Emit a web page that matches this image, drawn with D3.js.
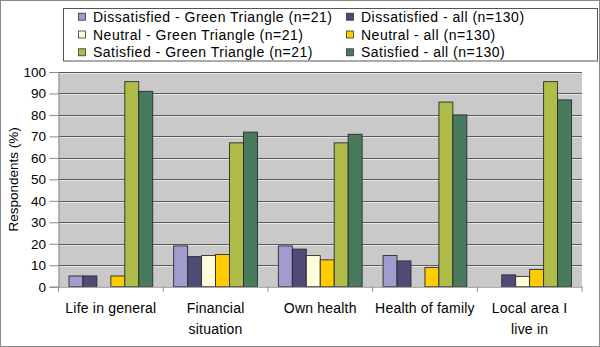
<!DOCTYPE html>
<html>
<head>
<meta charset="utf-8">
<script src="https://cdn.jsdelivr.net/npm/d3@7"></script>
<style>
  body { margin: 0; background: #fff; }
  svg text { font-family: "Liberation Sans", Arial, sans-serif; fill: #000; }
</style>
</head>
<body>
<svg id="chart"></svg>
<script>
// categories and series
var categories = ["Life in general", "Financial situation", "Own health", "Health of family", "Local area I live in"];
var categoryLines = [["Life in general"], ["Financial", "situation"], ["Own health"], ["Health of family"], ["Local area I", "live in"]];

var seriesNames = [
  "Dissatisfied - Green Triangle (n=21)",
  "Dissatisfied - all (n=130)",
  "Neutral - Green Triangle (n=21)",
  "Neutral - all (n=130)",
  "Satisfied - Green Triangle (n=21)",
  "Satisfied - all (n=130)"
];
var seriesColors = ["#A09CCF", "#4F4A78", "#FFFCDC", "#FFCC00", "#B0BC4A", "#487A5E"];

var dissatGT = [5, 19, 19, 14.5, 0];
var dissatAll = [5, 14, 17.5, 12, 5.5];
var neutralGT = [0, 14.5, 14.5, 0, 4.8];
var neutralAll = [5, 15, 12.5, 9, 8];
var satGT = [95.5, 67, 67, 86, 95.5];
var satAll = [91, 72, 71, 80, 87];

var yTicks = [0, 10, 20, 30, 40, 50, 60, 70, 80, 90, 100];

var allSeries = [dissatGT, dissatAll, neutralGT, neutralAll, satGT, satAll];

var width = 600, height = 347;
var margin = {left: 58.5, right: 18, top: 72, bottom: 60};
var plotW = width - margin.left - margin.right;
var plotH = 286.7 - margin.top;

var svg = d3.select("#chart")
  .attr("width", width)
  .attr("height", height);

// outer frame
svg.append("rect")
  .attr("x", 0.5).attr("y", 0.5)
  .attr("width", width - 1).attr("height", height - 1)
  .attr("fill", "#fff").attr("stroke", "#8a8a8a");

var x0 = d3.scaleBand()
  .domain(categories)
  .range([0, plotW])
  .paddingInner(0).paddingOuter(0);

// gap width 150% of a bar: 6 bars + 1.5 gap
var barW = x0.bandwidth() / 7.5;
var x1 = d3.scaleBand()
  .domain(d3.range(seriesNames.length))
  .range([barW * 0.75, barW * 6.75]);

var y = d3.scaleLinear().domain([0, 100]).range([plotH, 0]);

var g = svg.append("g")
  .attr("transform", "translate(" + margin.left + "," + margin.top + ")");

// plot background
g.append("rect")
  .attr("width", plotW).attr("height", plotH)
  .attr("fill", "#C9C9C9");

// gridlines
var grid = g.append("g");
grid.selectAll("line.dark")
  .data(yTicks.filter(function(d) { return d > 0; }))
  .enter().append("line")
  .attr("x1", 0).attr("x2", plotW)
  .attr("y1", function(d) { return Math.round(y(d)) + 0.5; })
  .attr("y2", function(d) { return Math.round(y(d)) + 0.5; })
  .attr("stroke", "#5a5a5a");
grid.selectAll("line.light")
  .data(yTicks.filter(function(d) { return d > 0; }))
  .enter().append("line")
  .attr("x1", 0).attr("x2", plotW)
  .attr("y1", function(d) { return Math.round(y(d)) + 1.5; })
  .attr("y2", function(d) { return Math.round(y(d)) + 1.5; })
  .attr("stroke", "#e6e6e6");

// bars
var groups = g.selectAll("g.cat")
  .data(categories)
  .enter().append("g")
  .attr("transform", function(d) { return "translate(" + x0(d) + ",0)"; });

groups.selectAll("rect")
  .data(function(d, i) {
    return allSeries.map(function(s, j) { return {s: j, v: s[i]}; });
  })
  .enter().append("rect")
  .filter(function(d) { return d.v > 0; })
  .attr("x", function(d) { return x1(d.s); })
  .attr("width", x1.bandwidth())
  .attr("y", function(d) { return y(d.v); })
  .attr("height", function(d) { return plotH - y(d.v); })
  .attr("fill", function(d) { return seriesColors[d.s]; })
  .attr("stroke", "#2a2a2a")
  .attr("stroke-width", 0.9);

// y axis
var yAxis = g.append("g")
  .call(d3.axisLeft(y).tickValues(yTicks).tickSize(9).tickPadding(3.5));
yAxis.select(".domain").attr("stroke", "#8a8a8a");
yAxis.selectAll(".tick line").attr("stroke", "#8a8a8a");
yAxis.selectAll("text")
  .style("font-size", "13.5px")
  .attr("fill", "#000");

// x axis
var xAxis = g.append("g")
  .attr("transform", "translate(0," + plotH + ")")
  .call(d3.axisBottom(x0).tickSize(0).tickFormat(""));
xAxis.select(".domain").attr("stroke", "#8a8a8a");
xAxis.selectAll(".tick").remove();

xAxis.selectAll("line.sep")
  .data(d3.range(categories.length + 1))
  .enter().append("line")
  .attr("x1", function(i) { return i * x0.bandwidth(); })
  .attr("x2", function(i) { return i * x0.bandwidth(); })
  .attr("y1", 0).attr("y2", 5)
  .attr("stroke", "#8a8a8a");

xAxis.selectAll("text.cat")
  .data(categories)
  .enter().append("text")
  .attr("text-anchor", "middle")
  .attr("x", function(d) { return x0(d) + x0.bandwidth() / 2; })
  .attr("y", 26)
  .style("font-size", "14px")
  .style("letter-spacing", "0.2px")
  .each(function(d, i) {
    var t = d3.select(this);
    categoryLines[i].forEach(function(line, k) {
      t.append("tspan")
        .attr("x", x0(d) + x0.bandwidth() / 2)
        .attr("dy", k === 0 ? 0 : 21)
        .text(line);
    });
  });

// y axis title
svg.append("text")
  .attr("transform", "translate(18," + (margin.top + plotH / 2) + ") rotate(-90)")
  .attr("text-anchor", "middle")
  .style("font-size", "13.5px")
  .text("Respondents (%)");

// legend
var legend = svg.append("g");
legend.append("rect")
  .attr("x", 63.5).attr("y", 8.5)
  .attr("width", 534).attr("height", 52.5)
  .attr("fill", "#fff").attr("stroke", "#555");

var items = legend.selectAll("g.item")
  .data(d3.range(seriesNames.length))
  .enter().append("g")
  .attr("transform", function(d) {
    var col = d % 2, row = Math.floor(d / 2);
    return "translate(" + (col === 0 ? 78 : 346) + "," + (16.7 + row * 17.8) + ")";
  });
items.append("rect")
  .attr("x", 0.5).attr("y", -3.5)
  .attr("width", 7).attr("height", 7)
  .attr("fill", function(d) { return seriesColors[d]; })
  .attr("stroke", "#333").attr("stroke-width", 0.8);
items.append("text")
  .attr("x", 15)
  .attr("dy", "0.36em")
  .style("font-size", "14px")
  .style("letter-spacing", "0.5px")
  .text(function(d) { return seriesNames[d]; });
</script>
</body>
</html>
